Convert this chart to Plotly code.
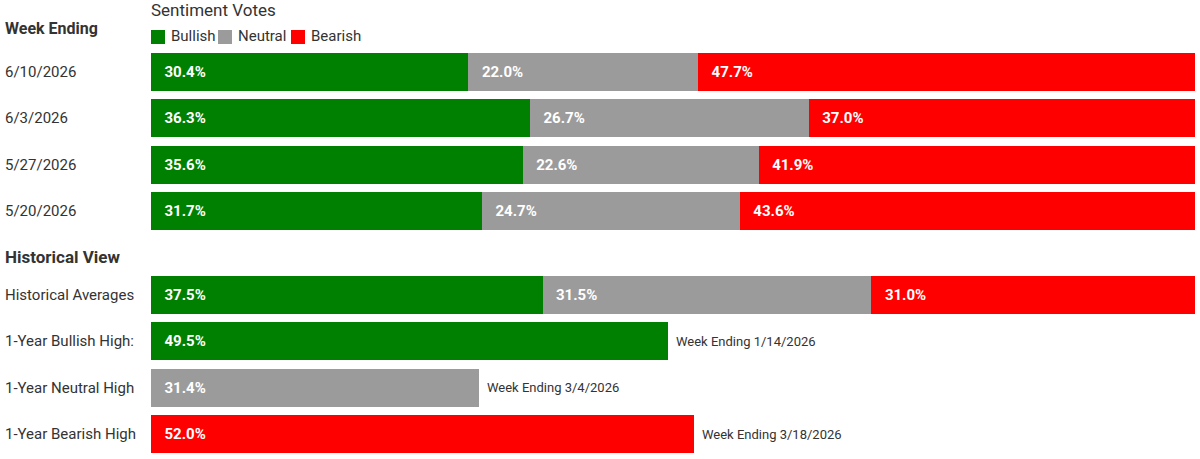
import plotly.graph_objects as go

# weekly sentiment votes (%)
weeks = ["6/10/2026", "6/3/2026", "5/27/2026", "5/20/2026"]
bullish = [30.4, 36.3, 35.6, 31.7]
neutral = [22.0, 26.7, 22.6, 24.7]
bearish = [47.7, 37.0, 41.9, 43.6]

# historical view
hist_rows = ["Historical Averages", "1-Year Bullish High:", "1-Year Neutral High", "1-Year Bearish High"]
hist_bullish = [37.5, 49.5, None, None]
hist_neutral = [31.5, None, 31.4, None]
hist_bearish = [31.0, None, None, 52.0]
high_weeks = ["", "Week Ending 1/14/2026", "Week Ending 3/4/2026", "Week Ending 3/18/2026"]

GREEN = "#008000"
GRAY = "#9b9b9b"
RED = "#ff0000"
FONT = "Roboto"
TXT = "#333333"

W, H = 1200, 459
L, R = 151, 5
plot_w = W - L - R


def px_x(px):
    # figure pixel -> paper x
    return (px - L) / plot_w


def px_y(py):
    # figure pixel (from top) -> paper y  (t = b = 0)
    return 1 - py / H


fig = go.Figure()

series = [("Bullish", bullish, hist_bullish, GREEN),
          ("Neutral", neutral, hist_neutral, GRAY),
          ("Bearish", bearish, hist_bearish, RED)]

for name, vals, hvals, color in series:
    common = dict(
        orientation="h",
        marker=dict(color=color, line=dict(width=0)),
        texttemplate="\u00a0\u00a0\u2009%{x:.1f}%",
        textposition="inside",
        insidetextanchor="start",
        textfont=dict(family=FONT, size=15, color="white", weight="bold"),
        hoverinfo="skip",
        showlegend=False,
    )
    fig.add_trace(go.Bar(name=name, x=vals, y=weeks, xaxis="x", yaxis="y", **common))
    fig.add_trace(go.Bar(name=name, x=hvals, y=hist_rows, xaxis="x2", yaxis="y2", **common))

annotations = []
shapes = []

# legend drawn by hand: square swatch + label
legend_left = [151, 218, 291]
for (name, _, _, color), x0 in zip(series, legend_left):
    shapes.append(dict(type="rect", xref="paper", yref="paper",
                       x0=px_x(x0), x1=px_x(x0 + 14), y0=px_y(44), y1=px_y(30),
                       fillcolor=color, line=dict(width=0)))
    annotations.append(dict(x=px_x(x0 + 18), y=px_y(36), xref="paper", yref="paper",
                            text=name, xanchor="left", yanchor="middle", showarrow=False,
                            font=dict(family=FONT, size=15, color=TXT)))
annotations.append(dict(x=px_x(149), y=px_y(10), xref="paper", yref="paper",
                        text="Sentiment Votes", xanchor="left", yanchor="middle",
                        showarrow=False, font=dict(family=FONT, size=17, color=TXT)))

# row labels on the left
for w in weeks:
    annotations.append(dict(x=px_x(3), y=w, xref="paper", yref="y", text=w,
                            xanchor="left", showarrow=False,
                            font=dict(family=FONT, size=15, color=TXT)))
for h in hist_rows:
    annotations.append(dict(x=px_x(3), y=h, xref="paper", yref="y2", text=h,
                            xanchor="left", showarrow=False,
                            font=dict(family=FONT, size=15, color=TXT)))

# "Week Ending ..." notes after the high bars
for i, h in enumerate(hist_rows):
    if not high_weeks[i]:
        continue
    length = sum(v[i] for v in (hist_bullish, hist_neutral, hist_bearish) if v[i] is not None)
    annotations.append(dict(x=length, y=h, xref="x2", yref="y2", text=high_weeks[i],
                            xanchor="left", xshift=6, showarrow=False,
                            font=dict(family=FONT, size=13, color=TXT)))

# section headers
annotations.append(dict(x=px_x(3), y=px_y(29), xref="paper", yref="paper", text="<b>Week Ending</b>",
                        xanchor="left", yanchor="middle", showarrow=False,
                        font=dict(family=FONT, size=16, color=TXT)))
annotations.append(dict(x=px_x(3), y=px_y(257), xref="paper", yref="paper", text="<b>Historical View</b>",
                        xanchor="left", yanchor="middle", showarrow=False,
                        font=dict(family=FONT, size=17, color=TXT)))

axis_x = dict(range=[0, 100], showgrid=False, zeroline=False, showticklabels=False,
              fixedrange=True)
axis_y = dict(autorange="reversed", showgrid=False, zeroline=False, showticklabels=False,
              fixedrange=True)

fig.update_layout(
    width=W, height=H,
    margin=dict(l=L, r=R, t=0, b=0, autoexpand=False),
    barmode="stack",
    bargap=0.18,
    plot_bgcolor="white",
    paper_bgcolor="white",
    font=dict(family=FONT, color=TXT),
    xaxis=dict(axis_x, domain=[0, 1], anchor="y"),
    xaxis2=dict(axis_x, domain=[0, 1], anchor="y2"),
    yaxis=dict(axis_y, domain=[px_y(234.5), px_y(48.5)], anchor="x"),
    yaxis2=dict(axis_y, domain=[px_y(457.5), px_y(271.5)], anchor="x2"),
    annotations=annotations,
    shapes=shapes,
    showlegend=False,
)

# drop the browser's default 8px page margin so the figure sits at (0, 0)
fig.write_html("out.html", config={"displayModeBar": False},
               post_script="document.body.style.margin='0';document.body.style.overflow='hidden';")
